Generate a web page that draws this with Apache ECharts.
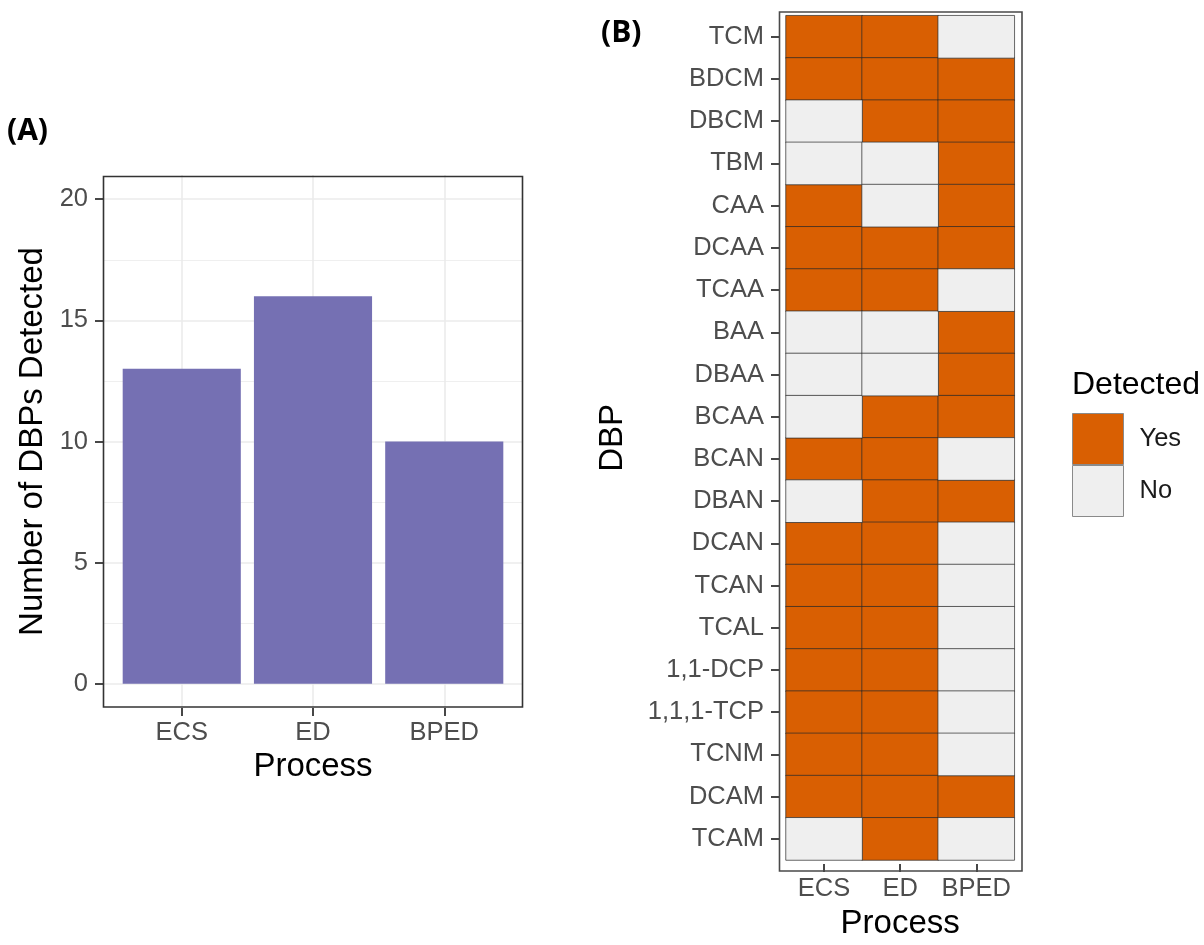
<!DOCTYPE html>
<html>
<head>
<meta charset="utf-8">
<script src="https://cdn.jsdelivr.net/npm/echarts@6/dist/echarts.min.js"></script>
<style>
  html, body { margin: 0; padding: 0; background: #fff; }
  #chart { width: 1204px; height: 945px; }
</style>
</head>
<body>
<div id="chart"></div>
<script>
// Panel A: number of DBPs detected per treatment process
const processes = ['ECS', 'ED', 'BPED'];
const dbpCounts = [13, 16, 10];
const countTicks = [0, 5, 10, 15, 20];
const countMinorTicks = [2.5, 7.5, 12.5, 17.5];

// Panel B: detection of each DBP per process (1 = Yes, 0 = No)
const dbps = ['TCM', 'BDCM', 'DBCM', 'TBM', 'CAA', 'DCAA', 'TCAA', 'BAA', 'DBAA', 'BCAA',
              'BCAN', 'DBAN', 'DCAN', 'TCAN', 'TCAL', '1,1-DCP', '1,1,1-TCP', 'TCNM', 'DCAM', 'TCAM'];
const detectedECS  = [1, 1, 0, 0, 1, 1, 1, 0, 0, 0, 1, 0, 1, 1, 1, 1, 1, 1, 1, 0];
const detectedED   = [1, 1, 1, 0, 0, 1, 1, 0, 0, 1, 1, 1, 1, 1, 1, 1, 1, 1, 1, 1];
const detectedBPED = [0, 1, 1, 1, 1, 1, 0, 1, 1, 1, 0, 1, 0, 0, 0, 0, 0, 0, 1, 0];
const detectedLevels = ['Yes', 'No'];

const FONT = 'Liberation Sans';
const TICK_GREY = '#4d4d4d';
const GRID_GREY = '#ebebeb';
const YES_COLOR = '#d95f02';
const NO_COLOR = '#efefef';

const detectionByProcess = [detectedECS, detectedED, detectedBPED];
const yesCells = [], noCells = [];
detectionByProcess.forEach((col, c) => {
  col.forEach((v, r) => {
    (v === 1 ? yesCells : noCells).push([c, r, v]);
  });
});

const barData = dbpCounts.map((v, i) => [i, v]);

const majorLine = { color: GRID_GREY, width: 1.6, type: 'solid' };
const minorLine = { color: GRID_GREY, width: 0.8, type: 'solid' };
const gridLines = []
  .concat(countTicks.map(v => ({ yAxis: v, lineStyle: majorLine })))
  .concat(countMinorTicks.map(v => ({ yAxis: v, lineStyle: minorLine })))
  .concat(processes.map((p, i) => ({ xAxis: i, lineStyle: majorLine })));

const chart = echarts.init(document.getElementById('chart'), null, { renderer: 'canvas' });

const tickLabel = { fontFamily: FONT, fontSize: 25.5, color: TICK_GREY };
const axisTitle = { fontFamily: FONT, fontSize: 33, color: '#000' };
const tickLine = { lineStyle: { color: '#333', width: 1.8 } };
const panelTitle = { fontFamily: 'Open Sans', fontWeight: 'bold', fontSize: 30, color: '#000' };

chart.setOption({
  animation: false,
  textStyle: { fontFamily: FONT },
  title: [
    { text: '(A)', left: 7, top: 116, padding: 0, textStyle: panelTitle },
    { text: '(B)', left: 601, top: 18, padding: 0, textStyle: panelTitle },
    { text: 'Detected', left: 1072, top: 369, padding: 0,
      textStyle: { fontFamily: FONT, fontWeight: 'normal', fontSize: 32, color: '#000' } }
  ],
  legend: {
    data: detectedLevels.map(n => ({ name: n, icon: 'rect' })),
    orient: 'vertical',
    left: 1072, top: 413,
    padding: 0,
    itemWidth: 51, itemHeight: 51, itemGap: 0,
    selectedMode: false,
    itemStyle: { borderColor: '#8a8a8a', borderWidth: 1 },
    textStyle: { fontFamily: FONT, fontSize: 25.5, color: '#1a1a1a', padding: [0, 0, 0, 11] }
  },
  grid: [
    { left: 103, top: 175, width: 420, height: 533, containLabel: false },
    { left: 786, top: 15.7, width: 228.3, height: 852, containLabel: false }
  ],
  xAxis: [
    {
      gridIndex: 0, type: 'value', min: -0.6, max: 2.6,
      axisLine: { show: false, onZero: false },
      splitLine: { show: false },
      axisTick: { show: true, customValues: [0, 1, 2], length: 8, ...tickLine },
      axisLabel: { customValues: [0, 1, 2], margin: 12, ...tickLabel,
                   formatter: v => processes[Math.round(v)] },
      name: 'Process', nameLocation: 'middle', nameGap: 42, nameTextStyle: axisTitle
    },
    {
      gridIndex: 1, type: 'category', data: processes, position: 'bottom', offset: 4,
      axisLine: { show: false, onZero: false },
      splitLine: { show: false },
      axisTick: { show: true, alignWithLabel: true, interval: 0, length: 8, ...tickLine },
      axisLabel: { margin: 12, interval: 0, hideOverlap: false, ...tickLabel },
      name: 'Process', nameLocation: 'middle', nameGap: 43, nameTextStyle: axisTitle
    }
  ],
  yAxis: [
    {
      gridIndex: 0, type: 'value', min: -1, max: 21,
      axisLine: { show: false, onZero: false },
      splitLine: { show: false },
      axisTick: { show: true, customValues: countTicks, length: 8, ...tickLine },
      axisLabel: { customValues: countTicks, margin: 15, ...tickLabel },
      name: 'Number of DBPs Detected', nameLocation: 'middle', nameGap: 54, nameTextStyle: axisTitle
    },
    {
      gridIndex: 1, type: 'category', data: dbps, inverse: true, offset: 7,
      axisLine: { show: false, onZero: false },
      splitLine: { show: false },
      axisTick: { show: true, alignWithLabel: true, interval: 0, length: 8, ...tickLine },
      axisLabel: { margin: 15, interval: 0, ...tickLabel },
      name: 'DBP', nameLocation: 'middle', nameGap: 150, nameTextStyle: axisTitle
    }
  ],
  series: [
    {
      type: 'bar', xAxisIndex: 0, yAxisIndex: 0,
      data: barData, barWidth: '90%', z: 2,
      itemStyle: { color: '#7570b3' },
      markLine: {
        z: 1, silent: true, symbol: 'none', animation: false,
        label: { show: false },
        emphasis: { disabled: true },
        data: gridLines
      }
    },
    {
      name: 'Yes', type: 'heatmap', xAxisIndex: 1, yAxisIndex: 1,
      data: yesCells,
      itemStyle: { color: YES_COLOR, borderColor: '#2a2a2a', borderWidth: 0.7 },
      emphasis: { disabled: true }
    },
    {
      name: 'No', type: 'heatmap', xAxisIndex: 1, yAxisIndex: 1,
      data: noCells,
      itemStyle: { color: NO_COLOR, borderColor: '#2a2a2a', borderWidth: 0.7 },
      emphasis: { disabled: true }
    }
  ],
  graphic: [
    { type: 'rect', z: 100, silent: true,
      shape: { x: 103.5, y: 176.5, width: 419, height: 530.5 },
      style: { fill: null, stroke: '#333', lineWidth: 1.6 } },
    { type: 'rect', z: 100, silent: true,
      shape: { x: 779.5, y: 12, width: 242.5, height: 859 },
      style: { fill: null, stroke: '#4a4a4a', lineWidth: 1.6 } }
  ]
});
</script>
</body>
</html>
